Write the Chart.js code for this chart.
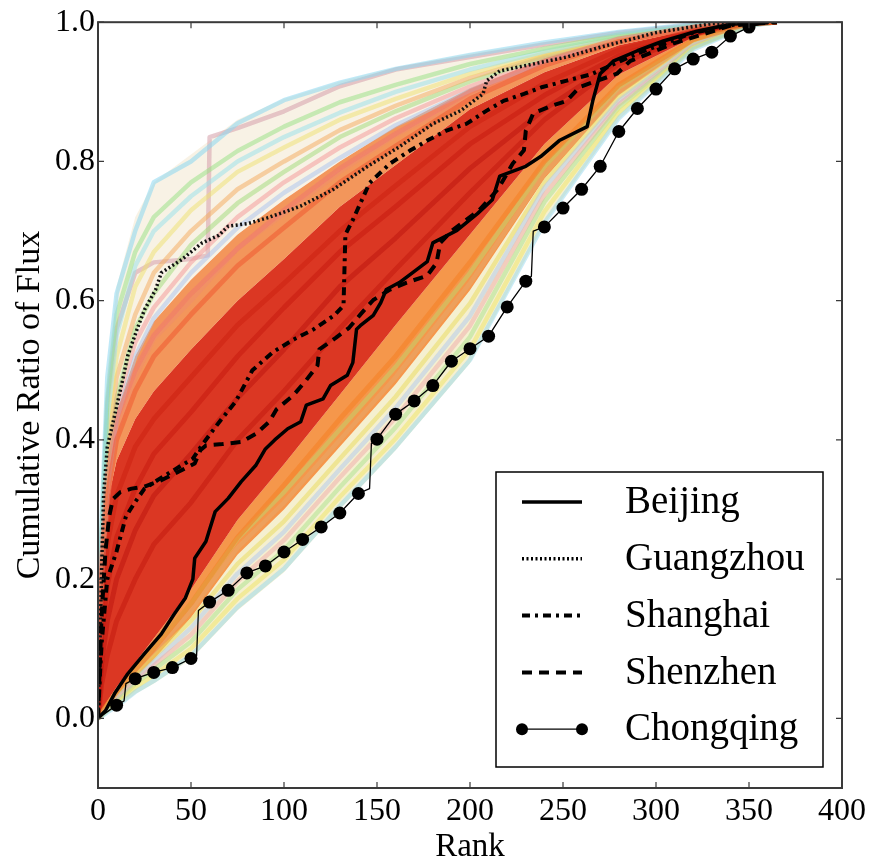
<!DOCTYPE html>
<html><head><meta charset="utf-8">
<script src="https://cdn.jsdelivr.net/npm/chart.js@4.4.0/dist/chart.umd.min.js"></script>
<style>html,body{margin:0;padding:0;background:#fff;}</style>
</head><body>
<canvas id="c" width="873" height="867"></canvas>
<script>
// ---------- tick labels ----------
const xTicks = [0, 50, 100, 150, 200, 250, 300, 350, 400];
const yTicks = [0.0, 0.2, 0.4, 0.6, 0.8, 1.0];

// ---------- background band of all cities (ranks where values were read) ----------
const bandRank = [0, 2, 5, 10, 20, 30, 50, 75, 100, 130, 160, 200, 240, 280, 320, 350, 365];
const bandHi       = [0, 0.30, 0.50, 0.62, 0.72, 0.77, 0.81, 0.86, 0.89, 0.915, 0.935, 0.955, 0.972, 0.987, 0.997, 1, 1];
const bandOrangeHi = [0, 0.24, 0.36, 0.44, 0.52, 0.57, 0.63, 0.695, 0.745, 0.80, 0.85, 0.905, 0.948, 0.978, 0.994, 1, 1];
const bandRedHi    = [0, 0.20, 0.31, 0.37, 0.43, 0.47, 0.53, 0.60, 0.66, 0.735, 0.795, 0.875, 0.928, 0.967, 0.99, 0.999, 1];
const bandRedLo    = [0, 0.01, 0.025, 0.045, 0.08, 0.115, 0.185, 0.285, 0.365, 0.465, 0.565, 0.695, 0.825, 0.925, 0.978, 0.998, 1];
const bandOrangeLo = [0, 0.006, 0.015, 0.03, 0.058, 0.085, 0.145, 0.235, 0.30, 0.39, 0.48, 0.615, 0.775, 0.895, 0.97, 0.997, 1];
const bandLo       = [0, 0.003, 0.008, 0.015, 0.035, 0.05, 0.085, 0.155, 0.21, 0.30, 0.385, 0.51, 0.71, 0.86, 0.96, 0.995, 1];

// individual city curves (same ranks as bandRank)
const upperCities = [
  [0, 0.29, 0.49, 0.61, 0.70, 0.77, 0.80, 0.855, 0.888, 0.913, 0.933, 0.953, 0.971, 0.986, 0.997, 1, 1],
  [0, 0.27, 0.46, 0.58, 0.67, 0.72, 0.77, 0.815, 0.85, 0.885, 0.91, 0.94, 0.962, 0.982, 0.995, 1, 1],
  [0, 0.25, 0.43, 0.55, 0.65, 0.70, 0.75, 0.80, 0.835, 0.87, 0.90, 0.932, 0.958, 0.98, 0.994, 1, 1],
  [0, 0.24, 0.41, 0.52, 0.62, 0.67, 0.73, 0.785, 0.82, 0.86, 0.89, 0.926, 0.955, 0.978, 0.994, 1, 1],
  [0, 0.23, 0.38, 0.49, 0.58, 0.64, 0.70, 0.76, 0.80, 0.845, 0.88, 0.92, 0.952, 0.977, 0.993, 1, 1],
  [0, 0.22, 0.36, 0.46, 0.56, 0.61, 0.68, 0.74, 0.785, 0.835, 0.872, 0.915, 0.95, 0.976, 0.993, 1, 1],
  [0, 0.24, 0.35, 0.45, 0.54, 0.59, 0.655, 0.72, 0.77, 0.82, 0.862, 0.908, 0.946, 0.976, 0.993, 1, 1],
  [0, 0.20, 0.33, 0.43, 0.52, 0.575, 0.64, 0.705, 0.755, 0.805, 0.852, 0.902, 0.943, 0.975, 0.993, 1, 1],
  [0, 0.20, 0.31, 0.41, 0.49, 0.545, 0.60, 0.675, 0.725, 0.785, 0.838, 0.892, 0.938, 0.972, 0.992, 1, 1]
];
// one city with a sharp jump near rank 60
const jumpCityRank  = [0, 2, 5, 10, 20, 30, 50, 59, 60, 75, 100, 130, 160, 200, 240, 280, 320, 350, 365];
const jumpCityValue = [0, 0.26, 0.45, 0.56, 0.64, 0.655, 0.66, 0.665, 0.835, 0.848, 0.872, 0.908, 0.932, 0.95, 0.968, 0.985, 0.996, 1, 1];

const lowerCities = [
  [0, 0.003, 0.009, 0.017, 0.038, 0.054, 0.09, 0.16, 0.215, 0.305, 0.39, 0.515, 0.712, 0.862, 0.961, 0.995, 1],
  [0, 0.004, 0.011, 0.021, 0.044, 0.062, 0.10, 0.172, 0.228, 0.318, 0.402, 0.53, 0.728, 0.87, 0.963, 0.996, 1],
  [0, 0.005, 0.012, 0.024, 0.049, 0.07, 0.11, 0.185, 0.242, 0.332, 0.418, 0.548, 0.742, 0.877, 0.964, 0.996, 1],
  [0, 0.005, 0.013, 0.026, 0.053, 0.076, 0.12, 0.197, 0.256, 0.346, 0.432, 0.564, 0.752, 0.882, 0.965, 0.996, 1],
  [0, 0.006, 0.014, 0.028, 0.056, 0.081, 0.13, 0.208, 0.268, 0.358, 0.446, 0.578, 0.762, 0.887, 0.967, 0.996, 1],
  [0, 0.006, 0.015, 0.03, 0.06, 0.088, 0.14, 0.222, 0.283, 0.373, 0.462, 0.596, 0.77, 0.892, 0.968, 0.997, 1],
  [0, 0.007, 0.017, 0.033, 0.065, 0.095, 0.155, 0.245, 0.31, 0.40, 0.49, 0.625, 0.782, 0.90, 0.971, 0.997, 1],
  [0, 0.008, 0.019, 0.037, 0.07, 0.102, 0.165, 0.258, 0.325, 0.415, 0.505, 0.64, 0.792, 0.906, 0.973, 0.997, 1]
];
const coreCities = [
  [0, 0.008, 0.02, 0.038, 0.07, 0.10, 0.165, 0.26, 0.335, 0.43, 0.52, 0.655, 0.80, 0.91, 0.975, 0.998, 1],
  [0, 0.05, 0.09, 0.14, 0.20, 0.25, 0.31, 0.40, 0.47, 0.56, 0.645, 0.755, 0.86, 0.94, 0.982, 0.998, 1],
  [0, 0.08, 0.14, 0.20, 0.27, 0.32, 0.38, 0.46, 0.53, 0.62, 0.69, 0.79, 0.875, 0.945, 0.984, 0.999, 1],
  [0, 0.12, 0.19, 0.26, 0.33, 0.38, 0.44, 0.52, 0.59, 0.67, 0.735, 0.825, 0.895, 0.952, 0.986, 0.999, 1],
  [0, 0.16, 0.25, 0.32, 0.39, 0.43, 0.49, 0.565, 0.625, 0.70, 0.765, 0.85, 0.912, 0.96, 0.988, 0.999, 1],
  [0, 0.21, 0.32, 0.40, 0.47, 0.52, 0.58, 0.65, 0.705, 0.77, 0.822, 0.89, 0.938, 0.972, 0.992, 1, 1],
  [0, 0.23, 0.35, 0.43, 0.50, 0.55, 0.61, 0.675, 0.73, 0.79, 0.84, 0.90, 0.944, 0.976, 0.993, 1, 1]
];

// ---------- highlighted cities ----------
const beijingRank  = [0, 4, 9, 16, 25, 34, 41, 47, 51, 52, 58, 63, 70, 77, 85, 90, 95, 102, 109, 112, 121, 125, 134, 137, 139, 141, 148, 152, 155, 162, 169, 177, 180, 193, 204, 212, 216, 230, 238, 248, 263, 266, 270, 277, 290, 304, 322, 340, 360];
const beijingValue = [0, 0.011, 0.036, 0.064, 0.093, 0.121, 0.15, 0.173, 0.20, 0.23, 0.254, 0.297, 0.316, 0.34, 0.364, 0.387, 0.40, 0.416, 0.426, 0.45, 0.459, 0.478, 0.493, 0.511, 0.559, 0.564, 0.579, 0.597, 0.616, 0.626, 0.64, 0.656, 0.683, 0.701, 0.725, 0.745, 0.779, 0.793, 0.807, 0.83, 0.85, 0.887, 0.926, 0.944, 0.959, 0.973, 0.987, 0.997, 1.0];

const guangzhouRank  = [0, 1, 2, 3, 5, 9, 13, 16, 21, 25, 31, 34, 45, 56, 65, 70, 81, 91, 102, 109, 126, 145, 162, 180, 195, 207, 209, 216, 234, 252, 270, 300, 330, 350, 365];
const guangzhouValue = [0, 0.10, 0.22, 0.32, 0.39, 0.436, 0.483, 0.521, 0.559, 0.587, 0.616, 0.64, 0.659, 0.683, 0.694, 0.707, 0.711, 0.719, 0.729, 0.736, 0.759, 0.793, 0.821, 0.854, 0.873, 0.897, 0.916, 0.93, 0.94, 0.95, 0.964, 0.985, 0.998, 1, 1];

const shanghaiRank  = [0, 1, 2, 5, 10, 15, 20, 25, 33, 41, 51, 56, 65, 74, 83, 94, 105, 116, 127, 132, 133, 137, 146, 157, 168, 177, 187, 198, 209, 218, 229, 239, 252, 265, 290, 320, 345, 365];
const shanghaiValue = [0, 0.06, 0.11, 0.20, 0.24, 0.29, 0.311, 0.33, 0.344, 0.357, 0.373, 0.393, 0.425, 0.455, 0.50, 0.526, 0.544, 0.559, 0.579, 0.593, 0.695, 0.716, 0.769, 0.797, 0.816, 0.83, 0.844, 0.854, 0.873, 0.887, 0.897, 0.907, 0.916, 0.925, 0.955, 0.985, 0.998, 1];

const shenzhenRank  = [0, 1, 2, 4, 6, 8, 12, 18, 25, 34, 43, 52, 55, 58, 67, 77, 85, 92, 96, 105, 112, 118, 119, 128, 135, 141, 148, 157, 166, 177, 182, 184, 190, 205, 215, 223, 229, 230, 234, 243, 252, 259, 279, 286, 310, 340, 365];
const shenzhenValue = [0, 0.08, 0.15, 0.24, 0.29, 0.315, 0.325, 0.33, 0.333, 0.342, 0.354, 0.366, 0.385, 0.392, 0.394, 0.397, 0.409, 0.426, 0.444, 0.464, 0.486, 0.507, 0.53, 0.547, 0.561, 0.58, 0.601, 0.616, 0.626, 0.636, 0.654, 0.683, 0.70, 0.73, 0.76, 0.797, 0.816, 0.844, 0.869, 0.879, 0.887, 0.907, 0.926, 0.944, 0.97, 0.995, 1];

const chongqingRank  = [0, 10, 14, 15, 20, 30, 40, 50, 53, 54, 60, 70, 80, 90, 100, 110, 120, 130, 140, 146, 147, 150, 160, 170, 180, 190, 200, 210, 220, 230, 233, 234, 240, 250, 260, 270, 280, 290, 300, 310, 320, 330, 340, 350, 360, 365];
const chongqingValue = [0, 0.019, 0.025, 0.05, 0.057, 0.066, 0.073, 0.086, 0.09, 0.155, 0.167, 0.184, 0.209, 0.219, 0.239, 0.257, 0.275, 0.295, 0.323, 0.33, 0.395, 0.401, 0.437, 0.456, 0.478, 0.513, 0.531, 0.549, 0.591, 0.628, 0.635, 0.70, 0.706, 0.733, 0.76, 0.793, 0.843, 0.876, 0.904, 0.933, 0.947, 0.957, 0.98, 0.993, 1.0, 1.0];

// ---------- styles ----------
const FONT = '"Liberation Serif", "Times New Roman", serif';
const upperColors = ['rgba(140,215,240,0.55)','rgba(150,225,130,0.5)','rgba(150,225,235,0.5)',
  'rgba(240,225,110,0.5)','rgba(245,170,90,0.5)','rgba(160,220,120,0.5)','rgba(245,150,150,0.5)','rgba(170,195,240,0.5)','rgba(240,140,110,0.5)'];
const lowerColors = ['rgba(150,215,240,0.5)','rgba(240,230,110,0.55)','rgba(170,225,140,0.5)','rgba(240,170,170,0.5)',
  'rgba(175,200,240,0.5)','rgba(235,220,100,0.55)','rgba(230,170,110,0.5)','rgba(190,215,110,0.5)'];
const coreColors = ['rgba(245,130,40,0.6)','rgba(190,20,10,0.45)','rgba(185,15,10,0.45)','rgba(195,20,10,0.45)','rgba(200,25,10,0.4)','rgba(240,90,50,0.55)','rgba(240,120,110,0.55)'];

function pts(rs, vs){ return rs.map((r, i) => ({x: r, y: vs[i]})); }

const datasets = [];
// band layers (filled between neighbouring bounds)
const bandBounds = [bandHi, bandOrangeHi, bandRedHi, bandRedLo, bandOrangeLo, bandLo];
const bandFills = ['rgba(232,215,175,0.32)', 'rgba(240,120,45,0.78)', 'rgba(216,38,16,0.92)', 'rgba(242,125,30,0.8)', 'rgba(232,222,150,0.45)', false];
bandBounds.forEach((b, i) => {
  datasets.push({ data: pts(bandRank, b), borderWidth: 0, pointRadius: 0,
    fill: bandFills[i] ? i + 1 : false, backgroundColor: bandFills[i] || 'transparent', order: 30 });
});
upperCities.forEach((c, i) => datasets.push({ data: pts(bandRank, c), borderColor: upperColors[i], borderWidth: 4.5, pointRadius: 0, fill: false, order: 20 }));
datasets.push({ data: pts(jumpCityRank, jumpCityValue), borderColor: 'rgba(215,165,175,0.6)', borderWidth: 4.5, pointRadius: 0, fill: false, order: 20 });
lowerCities.forEach((c, i) => datasets.push({ data: pts(bandRank, c), borderColor: lowerColors[i], borderWidth: 4.5, pointRadius: 0, fill: false, order: 20 }));
coreCities.forEach((c, i) => datasets.push({ data: pts(bandRank, c), borderColor: coreColors[i], borderWidth: 5, pointRadius: 0, fill: false, order: 15 }));

const highlight = [
  { label: 'Beijing',   data: pts(beijingRank, beijingValue),     borderColor: '#000', borderWidth: 3.5, borderDash: [], pointRadius: 0, order: 4 },
  { label: 'Guangzhou', data: pts(guangzhouRank, guangzhouValue), borderColor: '#111', borderWidth: 3.5, borderDash: [2, 2.5], pointRadius: 0, order: 3 },
  { label: 'Shanghai',  data: pts(shanghaiRank, shanghaiValue),   borderColor: '#000', borderWidth: 4, borderDash: [8, 5, 3, 5], pointRadius: 0, order: 2 },
  { label: 'Shenzhen',  data: pts(shenzhenRank, shenzhenValue),   borderColor: '#000', borderWidth: 4, borderDash: [10, 7], pointRadius: 0, order: 1 },
  { label: 'Chongqing', data: pts(chongqingRank, chongqingValue), borderColor: '#000', borderWidth: 1.3, borderDash: [],
    pointRadius: ctx => (ctx.raw && ctx.raw.x > 0 && ctx.raw.x % 10 === 0 && ctx.raw.x <= 350 ? 6.5 : 0), pointBackgroundColor: '#000', pointBorderWidth: 0, marker: true, order: 0 }
];
highlight.forEach(h => { h.fill = false; h.isCity = true; h.borderCapStyle = 'butt'; datasets.push(h); });

// ---------- plugins: inward ticks, frame, legend ----------
const framePlugin = {
  id: 'frame',
  afterDatasetsDraw(chart) {
    const { ctx, chartArea: a, scales: { x, y } } = chart;
    ctx.save();
    ctx.strokeStyle = '#3a3a3a'; ctx.lineWidth = 1.2;
    ctx.beginPath();
    xTicks.forEach(v => { const p = x.getPixelForValue(v); ctx.moveTo(p, a.bottom); ctx.lineTo(p, a.bottom - 6); ctx.moveTo(p, a.top); ctx.lineTo(p, a.top + 6); });
    yTicks.forEach(v => { const p = y.getPixelForValue(v); ctx.moveTo(a.left, p); ctx.lineTo(a.left + 6, p); ctx.moveTo(a.right, p); ctx.lineTo(a.right - 6, p); });
    ctx.stroke();
    ctx.lineWidth = 2; ctx.strokeStyle = '#3a3a3a';
    ctx.strokeRect(a.left, a.top, a.right - a.left, a.bottom - a.top);
    ctx.restore();
  }
};
const legendPlugin = {
  id: 'cityLegend',
  afterDraw(chart) {
    const { ctx, chartArea: a } = chart;
    const items = chart.data.datasets.filter(d => d.isCity);
    const boxR = a.right - 19, boxB = a.bottom - 21, boxW = 327, boxH = 295;
    const boxL = boxR - boxW, boxT = boxB - boxH;
    ctx.save();
    ctx.fillStyle = '#fff'; ctx.fillRect(boxL, boxT, boxW, boxH);
    ctx.strokeStyle = '#000'; ctx.lineWidth = 1.5; ctx.strokeRect(boxL, boxT, boxW, boxH);
    ctx.font = '39px ' + FONT; ctx.textBaseline = 'middle'; ctx.fillStyle = '#000';
    items.forEach((d, i) => {
      const yy = boxT + 30 + i * 56.8;
      const x0 = boxL + 26, x1 = boxL + 86;
      ctx.beginPath(); ctx.setLineDash(d.borderDash || []); ctx.lineWidth = d.borderWidth; ctx.lineCap = 'butt';
      ctx.strokeStyle = '#000'; ctx.moveTo(x0, yy); ctx.lineTo(x1, yy); ctx.stroke(); ctx.setLineDash([]);
      if (d.marker) { [x0, x1].forEach(px => { ctx.beginPath(); ctx.arc(px, yy, 6, 0, Math.PI * 2); ctx.fill(); }); }
      ctx.fillText(d.label, boxL + 129, yy + 1);
    });
    ctx.restore();
  }
};

new Chart(document.getElementById('c'), {
  type: 'line',
  data: { datasets },
  options: {
    responsive: false, animation: false,
    layout: { padding: { top: 18, right: 31, left: 0, bottom: 0 } },
    elements: { line: { tension: 0, borderJoinStyle: 'round' }, point: { radius: 0, hoverRadius: 0 } },
    plugins: { legend: { display: false }, tooltip: { enabled: false } },
    scales: {
      x: { type: 'linear', min: 0, max: 400,
        afterBuildTicks: s => { s.ticks = xTicks.map(v => ({ value: v })); },
        afterFit: s => { s.height = 79; },
        grid: { display: false, drawTicks: false }, border: { display: false },
        ticks: { font: { family: FONT, size: 32 }, color: '#000', padding: 4, maxRotation: 0, autoSkip: false, callback: v => String(v) },
        title: { display: true, text: 'Rank', font: { family: FONT, size: 33 }, color: '#000', padding: { top: 0, bottom: 0 } } },
      y: { type: 'linear', min: -0.1, max: 1.0,
        afterBuildTicks: s => { s.ticks = yTicks.map(v => ({ value: v })); },
        afterFit: s => { s.width = 98; },
        grid: { display: false, drawTicks: false }, border: { display: false },
        ticks: { font: { family: FONT, size: 32 }, color: '#000', padding: 3, autoSkip: false, callback: v => Number(v).toFixed(1) },
        title: { display: true, text: 'Cumulative Ratio of Flux', font: { family: FONT, size: 34 }, color: '#000', padding: { top: 10, bottom: 0 } } }
    }
  },
  plugins: [framePlugin, legendPlugin]
});
</script>
</body></html>
